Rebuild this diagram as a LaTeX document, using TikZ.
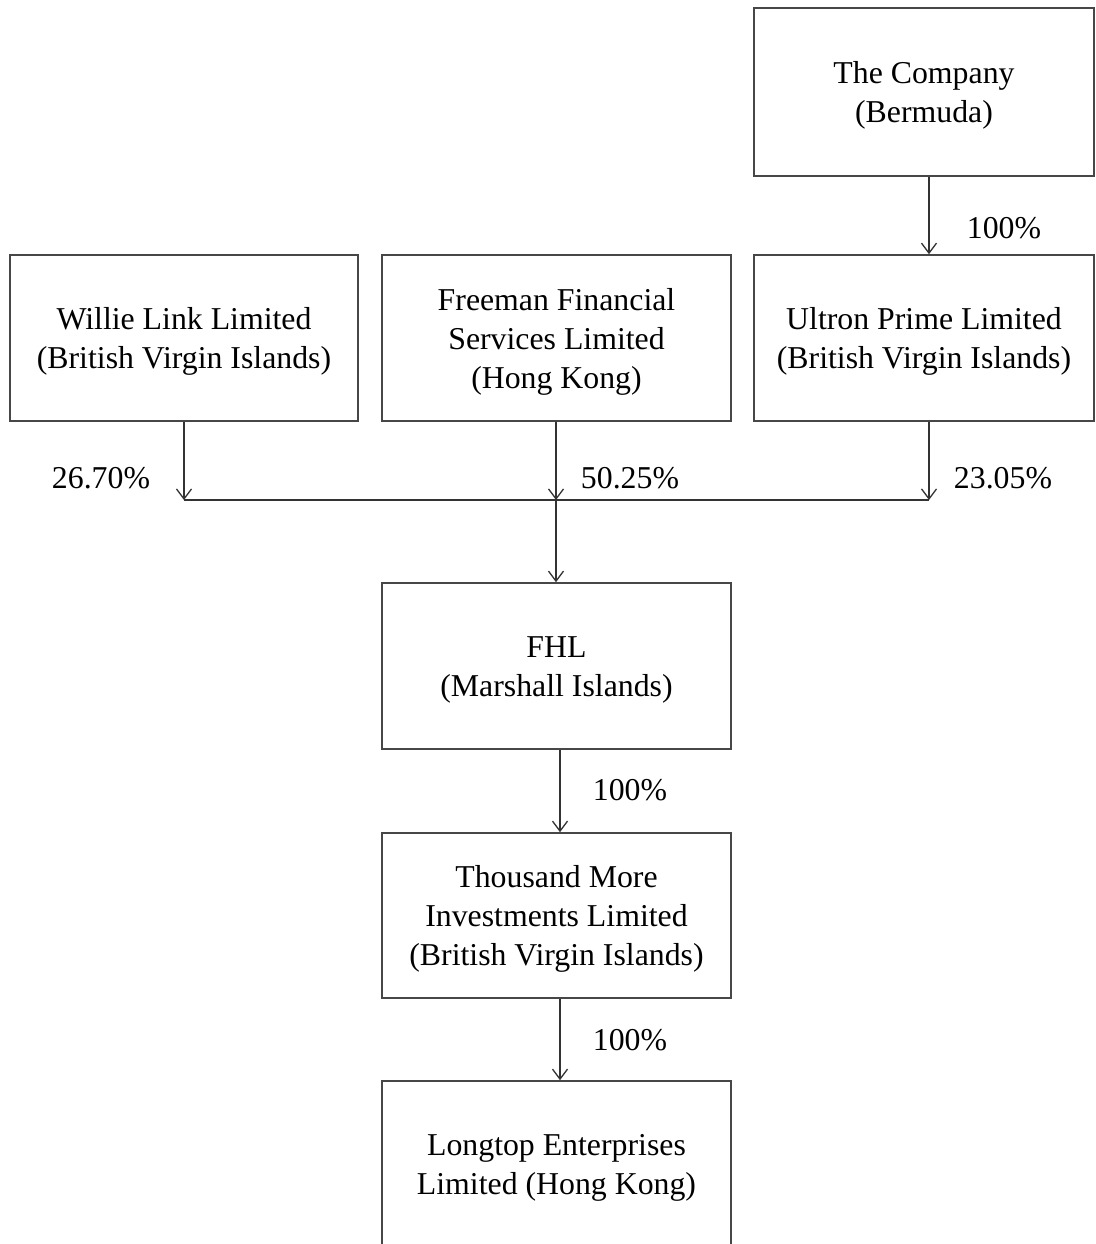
\documentclass[tikz,border=0pt]{standalone}
\usepackage{fontspec}
\setmainfont{Liberation Serif}
\usetikzlibrary{arrows.meta}
\newcommand{\fstrut}{\rule{0pt}{29pt}}
\begin{document}
\begin{tikzpicture}[x=1pt,y=-1pt,
  box/.style={draw=black!72, line width=1.6pt, align=center, inner sep=0pt,
    font=\fontsize{31.8}{39}\selectfont},
  pct/.style={inner sep=0pt, font=\fontsize{31.8}{39}\selectfont},
  arr/.style={draw=black!80, line width=1.3pt, -{Straight Barb[length=10pt,width=15pt,line width=1.3pt]}},
  ln/.style={draw=black!80, line width=1.3pt}]
\useasboundingbox (0,0) rectangle (1095,1244);
\node[box, minimum width=340pt, minimum height=168pt] (comp) at (924,92) {\fstrut The Company\\(Bermuda)};
\node[box, minimum width=348pt, minimum height=166pt] (willie) at (184,338) {\fstrut Willie Link Limited\\(British Virgin Islands)};
\node[box, minimum width=349pt, minimum height=166pt] (free) at (556.5,338) {\fstrut Freeman Financial\\Services Limited\\(Hong Kong)};
\node[box, minimum width=340pt, minimum height=166pt] (ult) at (924,338) {\fstrut Ultron Prime Limited\\(British Virgin Islands)};
\node[box, minimum width=349pt, minimum height=166pt] (fhl) at (556.5,666) {\fstrut FHL\\(Marshall Islands)};
\node[box, minimum width=349pt, minimum height=165pt] (tm) at (556.5,915.5) {\fstrut Thousand More\\Investments Limited\\(British Virgin Islands)};
\node[box, minimum width=349pt, minimum height=166pt] (lt) at (556.5,1164) {\fstrut Longtop Enterprises\\Limited (Hong Kong)};

\coordinate (jw) at (184,500);
\coordinate (jf) at (556,500);
\coordinate (ju) at (929,500);

\draw[arr] (comp.south -| ju) -- (ult.north -| ju);
\draw[arr] (willie.south -| jw) -- (jw);
\draw[arr] (free.south -| jf) -- (jf);
\draw[arr] (ult.south -| ju) -- (ju);
\draw[ln] (jw) -- (ju);
\draw[arr] (jf) -- (fhl.north -| jf);
\coordinate (c2) at (560,0);
\draw[arr] (fhl.south -| c2) -- (tm.north -| c2);
\draw[arr] (tm.south -| c2) -- (lt.north -| c2);

\node[pct] (p1) at (1004,228) {100\%};
\node[pct] (p2) at (101,478) {26.70\%};
\node[pct] (p3) at (630,478) {50.25\%};
\node[pct] (p4) at (1003,478) {23.05\%};
\node[pct] (p5) at (630,790) {100\%};
\node[pct] (p6) at (630,1040) {100\%};
\end{tikzpicture}
\end{document}
